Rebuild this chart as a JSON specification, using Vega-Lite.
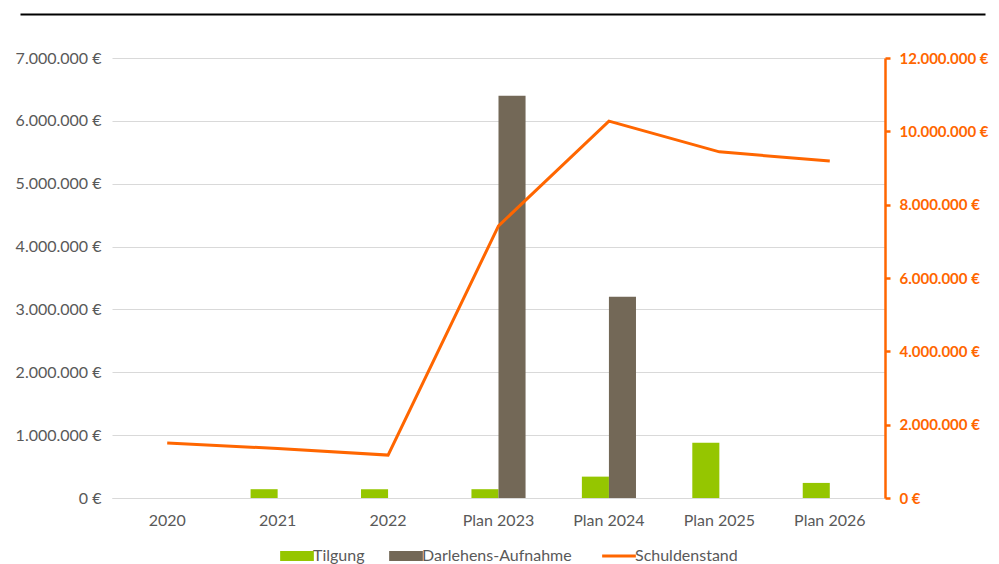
{
  "$schema": "https://vega.github.io/schema/vega-lite/v6.json",
  "padding": {"left": 15, "top": 14, "right": 5, "bottom": 0},
  "background": "white",
  "config": {
    "view": {"stroke": null},
    "font": "Lato",
    "locale": {"number": {"decimal": ",", "thousands": ".", "grouping": [3], "currency": ["", " €"]}}
  },
  "datasets": {
    "bars": [
      {"year": "2020", "series": "Tilgung", "value": 0},
      {"year": "2021", "series": "Tilgung", "value": 140000},
      {"year": "2022", "series": "Tilgung", "value": 140000},
      {"year": "Plan 2023", "series": "Tilgung", "value": 140000},
      {"year": "Plan 2024", "series": "Tilgung", "value": 340000},
      {"year": "Plan 2025", "series": "Tilgung", "value": 880000},
      {"year": "Plan 2026", "series": "Tilgung", "value": 240000},
      {"year": "2020", "series": "Darlehens-Aufnahme", "value": 0},
      {"year": "2021", "series": "Darlehens-Aufnahme", "value": 0},
      {"year": "2022", "series": "Darlehens-Aufnahme", "value": 0},
      {"year": "Plan 2023", "series": "Darlehens-Aufnahme", "value": 6400000},
      {"year": "Plan 2024", "series": "Darlehens-Aufnahme", "value": 3200000},
      {"year": "Plan 2025", "series": "Darlehens-Aufnahme", "value": 0},
      {"year": "Plan 2026", "series": "Darlehens-Aufnahme", "value": 0}
    ],
    "line": [
      {"year": "2020", "schulden": 1500000},
      {"year": "2021", "schulden": 1350000},
      {"year": "2022", "schulden": 1170000},
      {"year": "Plan 2023", "schulden": 7420000},
      {"year": "Plan 2024", "schulden": 10280000},
      {"year": "Plan 2025", "schulden": 9440000},
      {"year": "Plan 2026", "schulden": 9190000}
    ]
  },
  "spacing": 35,
  "vconcat": [
    {
      "width": 773,
      "height": 1,
      "data": {"values": []},
      "mark": {"type": "point"},
      "encoding": {
        "x": {
          "field": "x", "type": "quantitative",
          "scale": {"domain": [0, 1], "range": [-92, 873]},
          "axis": {"orient": "top", "title": null, "labels": false, "ticks": false, "grid": false, "domain": true, "domainColor": "#000000", "domainWidth": 2}
        }
      }
    },
    {
      "width": 773,
      "height": 440,
      "layer": [
        {
          "data": {"name": "bars"},
          "mark": {"type": "bar"},
          "encoding": {
            "x": {
              "field": "year", "type": "nominal",
              "sort": ["2020", "2021", "2022", "Plan 2023", "Plan 2024", "Plan 2025", "Plan 2026"],
              "scale": {"paddingInner": 0.51, "paddingOuter": 0.255},
              "axis": {"title": null, "labelAngle": 0, "labelFontSize": 16, "labelColor": "#595959", "labelPadding": 14, "ticks": false, "domainColor": "#D9D9D9", "domainWidth": 1}
            },
            "xOffset": {"field": "series", "type": "nominal", "sort": ["Tilgung", "Darlehens-Aufnahme"], "scale": {"paddingInner": 0, "paddingOuter": 0}},
            "y": {
              "field": "value", "type": "quantitative",
              "scale": {"domain": [0, 7000000], "nice": false},
              "axis": {"title": null, "values": [0, 1000000, 2000000, 3000000, 4000000, 5000000, 6000000, 7000000], "format": ",.0f", "labelExpr": "datum.label + ' €'", "labelFontSize": 16, "labelColor": "#595959", "labelPadding": 11, "ticks": false, "domain": false, "gridColor": "#D9D9D9", "gridWidth": 1}
            },
            "color": {
              "field": "series", "type": "nominal",
              "scale": {"domain": ["Tilgung", "Darlehens-Aufnahme", "Schuldenstand"], "range": ["#95C600", "#736857", "#FF6600"]},
              "legend": {
                "orient": "none", "legendX": 177, "legendY": 534, "padding": 0,
                "direction": "horizontal", "title": null,
                "symbolSize": 580, "labelFontSize": 16, "labelColor": "#595959", "columnPadding": 24, "labelOffset": 8,
                "encode": {"symbols": {"update": {
                  "shape": {"signal": "datum.label == 'Schuldenstand' ? 'M-1.4,0H1.4' : 'M-1.4,-0.42H1.4V0.42H-1.4Z'"},
                  "strokeWidth": {"signal": "datum.label == 'Schuldenstand' ? 3 : 0"},
                  "stroke": {"signal": "scale('color', datum.value)"},
                  "fill": {"signal": "datum.label == 'Schuldenstand' ? 'transparent' : scale('color', datum.value)"},
                  "opacity": {"value": 1}
                }}}
              }
            }
          }
        },
        {
          "data": {"name": "line"},
          "mark": {"type": "line", "color": "#FF6600", "strokeWidth": 3},
          "encoding": {
            "x": {"field": "year", "type": "nominal", "sort": ["2020", "2021", "2022", "Plan 2023", "Plan 2024", "Plan 2025", "Plan 2026"]},
            "y": {
              "field": "schulden", "type": "quantitative",
              "scale": {"domain": [0, 12000000], "nice": false},
              "axis": {"title": null, "orient": "right", "grid": false, "values": [0, 2000000, 4000000, 6000000, 8000000, 10000000, 12000000], "format": ",.0f", "labelExpr": "datum.label + ' €'", "labelFontSize": 15, "labelFontWeight": "bold", "labelColor": "#FF6600", "domainColor": "#FF6600", "domainWidth": 2.5, "tickColor": "#FF6600", "tickWidth": 2.5, "tickSize": 5, "labelPadding": 9}
            }
          }
        }
      ],
      "resolve": {"scale": {"y": "independent"}}
    }
  ]
}
